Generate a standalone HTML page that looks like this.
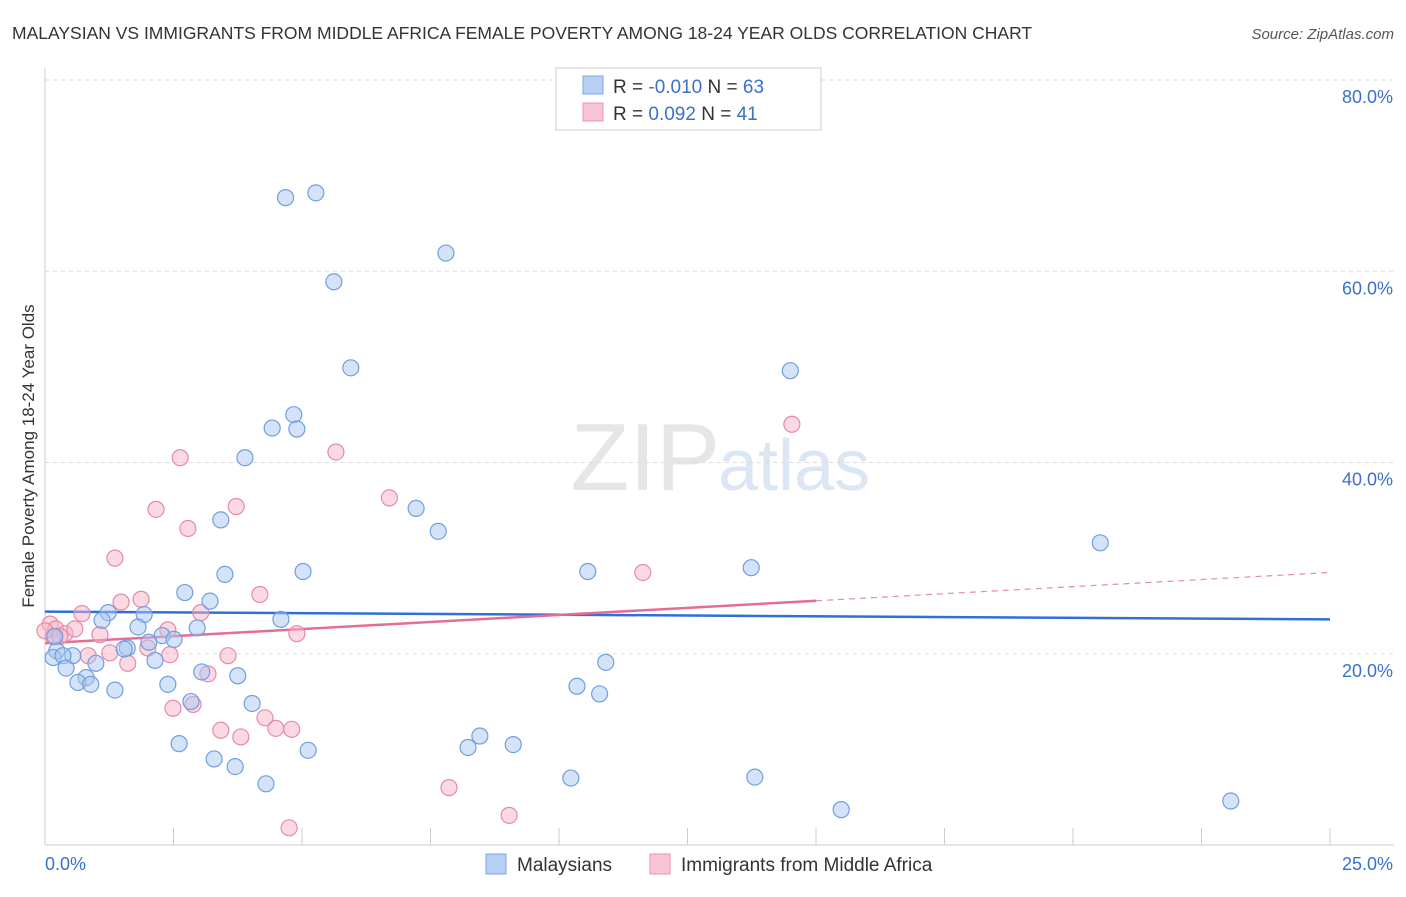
<!DOCTYPE html>
<html><head><meta charset="utf-8"><style>
body{margin:0;background:#fff;font-family:"Liberation Sans",sans-serif;}
svg text{font-family:"Liberation Sans",sans-serif;}
</style></head><body>
<svg id="chart" width="1406" height="892" xmlns="http://www.w3.org/2000/svg">
<text x="12" y="39" font-size="17.5" fill="#333">MALAYSIAN VS IMMIGRANTS FROM MIDDLE AFRICA FEMALE POVERTY AMONG 18-24 YEAR OLDS CORRELATION CHART</text>
<text x="1394" y="39" font-size="15" fill="#555" text-anchor="end" font-style="italic">Source: ZipAtlas.com</text>
<text x="720" y="490" font-size="96" fill="#e6e6e6" text-anchor="end" font-family="Liberation Serif">ZIP</text>
<text x="718" y="490" font-size="72" fill="#dbe6f5">atlas</text>
<g id="grid"></g>
<g id="axes"></g>
<g id="lines"></g>
<g id="pts"></g>
<text transform="translate(34,456) rotate(-90)" font-size="17" fill="#333" text-anchor="middle">Female Poverty Among 18-24 Year Olds</text>
<g>
<rect x="556" y="68" width="265" height="62" fill="#fff" stroke="#ccc"/>
<rect x="583" y="76" width="20" height="18" fill="#b7d0f3" stroke="#7aa6e3"/>
<rect x="583" y="103" width="20" height="18" fill="#f8c4d4" stroke="#ea95b2"/>
<text x="613" y="93" font-size="19" fill="#333">R = <tspan fill="#3a70cc">-0.010</tspan>   N = <tspan fill="#3a70cc">63</tspan></text>
<text x="613" y="120" font-size="19" fill="#333">R =  <tspan fill="#3a70cc">0.092</tspan>   N =  <tspan fill="#3a70cc">41</tspan></text>
</g>
<g>
<rect x="486" y="854" width="20" height="20" fill="#b7d0f3" stroke="#7aa6e3"/>
<text x="517" y="871" font-size="19" fill="#333">Malaysians</text>
<rect x="650" y="854" width="20" height="20" fill="#f8c4d4" stroke="#ea95b2"/>
<text x="681" y="871" font-size="19" fill="#333">Immigrants from Middle Africa</text>
</g>
</svg>
<script>
const xTicks=[0,2.5,5,7.5,10,12.5,15,17.5,20,22.5,25];
const yTicks=[20,40,60,80];
const xTickLabels=["0.0%","25.0%"];
const blueX=[4.68,5.27,7.8,5.62,5.95,14.5,4.84,4.42,4.9,3.89,7.22,7.65,3.42,20.53,10.56,5.02,13.74,3.5,2.72,3.21,1.93,1.23,1.11,4.59,2.96,1.81,2.28,2.51,2.02,1.6,1.54,0.23,0.54,0.16,0.35,2.14,0.99,10.91,0.41,0.8,0.64,0.89,2.39,3.05,3.75,1.36,10.35,10.79,2.84,4.03,8.46,8.23,9.11,2.61,5.12,3.29,3.7,10.23,13.81,4.3,15.49,23.07,0.19];
const blueY=[67.7,68.2,61.9,58.9,49.9,49.6,45.0,43.6,43.5,40.5,35.2,32.8,34.0,31.6,28.6,28.6,29.0,28.3,26.4,25.5,24.1,24.3,23.5,23.6,22.7,22.8,21.9,21.5,21.2,20.6,20.5,20.3,19.8,19.6,19.8,19.3,19.0,19.1,18.5,17.5,17.0,16.8,16.8,18.1,17.7,16.2,16.6,15.8,15.0,14.8,11.4,10.2,10.5,10.6,9.9,9.0,8.2,7.0,7.1,6.4,3.7,4.6,21.8];
const pinkX=[14.53,2.63,5.66,6.7,3.72,2.16,2.78,1.36,11.63,4.18,1.87,1.48,0.72,3.03,2.39,0.1,0.21,0.39,0.58,1.07,4.9,0.29,0.16,2.0,1.26,2.43,3.56,0.84,1.61,3.17,2.49,2.88,3.42,4.28,4.49,4.8,3.81,7.86,9.03,4.75,0.0];
const pinkY=[44.0,40.5,41.1,36.3,35.4,35.1,33.1,30.0,28.5,26.2,25.7,25.4,24.2,24.3,22.5,23.1,22.6,22.1,22.6,22.0,22.1,21.8,21.8,20.6,20.1,19.9,19.8,19.8,19.0,17.9,14.3,14.7,12.0,13.3,12.2,12.1,11.3,6.0,3.1,1.8,22.4];
const blueTrend=[24.4,23.6];
const pinkTrend=[21.1,28.5];
const X0=45,X1=1330,Y0=845,Y80=80;
const sx=v=>X0+(X1-X0)*v/25, sy=v=>Y0-(Y0-Y80)*v/80;
const NS="http://www.w3.org/2000/svg";
function mk(tag,attrs,parent){const e=document.createElementNS(NS,tag);for(const k in attrs)e.setAttribute(k,attrs[k]);parent.appendChild(e);return e;}
const grid=document.getElementById('grid'),axes=document.getElementById('axes'),lines=document.getElementById('lines'),pts=document.getElementById('pts');
yTicks.forEach(t=>{
 const l=mk('line',{x1:45,x2:1394,y1:sy(t),y2:sy(t),stroke:'#ddd','stroke-dasharray':'4,4'},grid);
 
 
 const tx=mk('text',{x:1393,y:sy(t)+23,'font-size':18,fill:'#3a70cc','text-anchor':'end'},grid);
 tx.textContent=t.toFixed(1)+'%';
 
 
});
mk('line',{x1:45,x2:45,y1:68,y2:845,stroke:'#ccc'},axes);
mk('line',{x1:45,x2:1394,y1:845,y2:845,stroke:'#ccc'},axes);
xTicks.forEach(t=>{const l=mk('line',{x1:sx(t),x2:sx(t),y1:828,y2:845,stroke:'#ccc'},axes);
 
 });
const xl0=mk('text',{x:45,y:870,'font-size':18,fill:'#3a70cc'},axes);xl0.textContent=xTickLabels[0];


const xl1=mk('text',{x:1393,y:870,'font-size':18,fill:'#3a70cc','text-anchor':'end'},axes);xl1.textContent=xTickLabels[1];


function drawPts(xs,ys,fill,stroke,name){xs.forEach((x,i)=>{const c=mk('circle',{cx:sx(x),cy:sy(ys[i]),r:8,fill:fill,'fill-opacity':0.5,stroke:stroke,'stroke-width':1.2},pts);
 
 });}
drawPts(pinkX,pinkY,'#f5b3c8','#e889a8','point-middle-africa');
drawPts(blueX,blueY,'#a9c8f0','#6f9fe0','point-malaysian');
const bl=mk('line',{x1:sx(0),y1:sy(blueTrend[0]),x2:sx(25),y2:sy(blueTrend[1]),stroke:'#2f6fd6','stroke-width':2.5},lines);


const pm=v=>pinkTrend[0]+(pinkTrend[1]-pinkTrend[0])*v/25;
const pl=mk('line',{x1:sx(0),y1:sy(pm(0)),x2:sx(15),y2:sy(pm(15)),stroke:'#e46d96','stroke-width':2.5},lines);


const pd=mk('line',{x1:sx(15),y1:sy(pm(15)),x2:sx(25),y2:sy(pm(25)),stroke:'#e88aa8','stroke-width':1.2,'stroke-dasharray':'6,5'},lines);


</script>
</body></html>
